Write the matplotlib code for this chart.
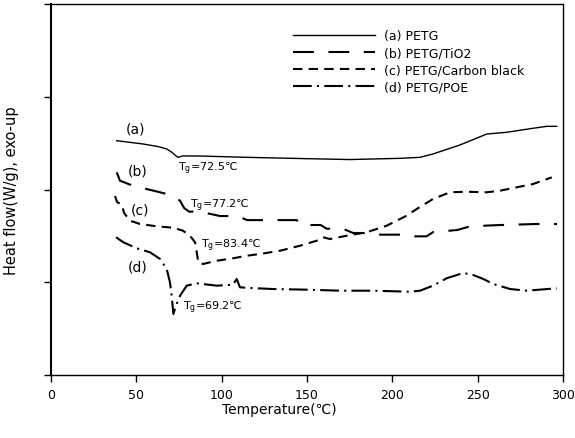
import matplotlib
matplotlib.use("Agg")
import matplotlib.pyplot as plt

plt.rcParams['font.family'] = ['DejaVu Sans', 'Noto Sans CJK SC']

# DSC curves (temperature in degC, heat flow in arbitrary units)
temp_a = [38.5, 53.9, 63.0, 67.8, 70.9, 73.0, 74.4, 77.3, 87.3, 114.7, 146, 175, 204.5, 216.2,
          223.8, 239.6, 255.3, 267, 282.4, 290.4, 296.3]
flow_a = [2.526, 2.491, 2.462, 2.437, 2.400, 2.365, 2.347, 2.362, 2.361, 2.347, 2.334, 2.323,
          2.336, 2.347, 2.383, 2.480, 2.598, 2.617, 2.660, 2.681, 2.681]

temp_b = [38.5, 40.4, 48.0, 63.9, 71.5, 75.6, 78.0, 81.0, 85.0, 90.0, 99.0, 109.0, 115.0,
          144.0, 146.0, 158.0, 161.5, 171.0, 177.0, 189.0, 193.0, 204.5, 208.4, 220.0,
          224.0, 238.0, 245.5, 263.0, 284.8, 296.5]
flow_b = [2.185, 2.095, 2.041, 1.970, 1.933, 1.879, 1.800, 1.760, 1.765, 1.750, 1.714, 1.714,
          1.670, 1.670, 1.617, 1.617, 1.577, 1.577, 1.531, 1.531, 1.513, 1.513, 1.495, 1.495,
          1.542, 1.563, 1.603, 1.617, 1.628, 1.628]

temp_c = [37.5, 38.7, 41.6, 42.8, 46.3, 52.1, 62.1, 71.5, 77.3, 81.4, 84.4, 85.4, 86.3,
          89.1, 97.1, 106.6, 114.7, 122.5, 134.2, 145.9, 155.7, 159.4, 163.5, 173.3, 185,
          196.7, 208.4, 214.3, 223.8, 233.8, 243.6, 255.3, 263.1, 272.9, 282.4, 293.4]
flow_c = [1.930, 1.865, 1.833, 1.747, 1.664, 1.628, 1.603, 1.588, 1.556, 1.502, 1.431, 1.323,
          1.215, 1.197, 1.232, 1.258, 1.286, 1.305, 1.340, 1.394, 1.448, 1.485, 1.466, 1.502,
          1.539, 1.610, 1.718, 1.790, 1.898, 1.970, 1.976, 1.970, 1.987, 2.024, 2.059, 2.131]

temp_d = [38.1, 42.4, 50.2, 58.0, 63.9, 67.8, 69.7, 70.7, 71.7, 73.2, 75.6, 79.5, 85.4,
          97.1, 106.6, 108.8, 110.7, 116.6, 130.3, 149.8, 169.3, 188.8, 210.3, 216.2,
          223.8, 231.8, 241.6, 247.4, 253.3, 259.2, 269, 278.7, 296.3]
flow_d = [1.485, 1.431, 1.366, 1.323, 1.251, 1.143, 0.999, 0.855, 0.658, 0.747, 0.855, 0.963,
          0.989, 0.963, 0.974, 1.035, 0.946, 0.938, 0.927, 0.920, 0.909, 0.909, 0.898, 0.909,
          0.963, 1.043, 1.100, 1.078, 1.035, 0.981, 0.927, 0.909, 0.935]

labels = ['(a) PETG', '(b) PETG/TiO2', '(c) PETG/Carbon black', '(d) PETG/POE']
curve_tags = ['(a)', '(b)', '(c)', '(d)']
tag_pos = [(49.5, 2.66), (51, 2.20), (52, 1.78), (50.5, 1.17)]
tg_text = ['72.5', '77.2', '83.4', '69.2']
tg_pos = [(74.5, 2.23), (81.5, 1.84), (88.0, 1.40), (77.5, 0.74)]

fig = plt.figure(figsize=(5.75, 4.39), dpi=100)
ax = fig.add_axes([0.0887, 0.1435, 0.8905, 0.8451])

ax.plot(temp_a, flow_a, color='black', lw=1.0, label=labels[0])
ax.plot(temp_b, flow_b, color='black', lw=1.5, dashes=(10, 7), label=labels[1])
ax.plot(temp_c, flow_c, color='black', lw=1.5, dashes=(4.5, 3), label=labels[2])
ax.plot(temp_d, flow_d, color='black', lw=1.5, dashes=(9, 2.5, 1, 2.5), label=labels[3])

for tag, (x, y) in zip(curve_tags, tag_pos):
    ax.text(x, y, tag, fontsize=10, ha='center', va='center')
for t, (x, y) in zip(tg_text, tg_pos):
    ax.text(x, y, r'$\mathregular{T_g}$=' + t + '℃', fontsize=8, ha='left', va='center')

ax.set_xlim(0, 300)
ax.set_ylim(0, 4)
ax.set_xticks(range(0, 301, 50))
ax.set_yticks([0, 1, 2, 3, 4])
ax.set_yticklabels([])
ax.tick_params(axis='both', direction='out', length=5, width=1, labelsize=9, pad=4)
for s in ax.spines.values():
    s.set_linewidth(1.0)
ax.spines['left'].set_linewidth(1.5)

ax.set_xlabel('Temperature(℃)', fontsize=10, labelpad=4)
ax.xaxis.set_label_coords(0.445, -0.072)
ax.set_ylabel('Heat flow(W/g), exo-up', fontsize=10.5, labelpad=14)

ax.legend(loc='upper left', bbox_to_anchor=(0.45, 0.962), frameon=False, fontsize=9,
          handlelength=6.6, handletextpad=0.7, labelspacing=0.32)

fig.savefig('out.png', dpi=100)
